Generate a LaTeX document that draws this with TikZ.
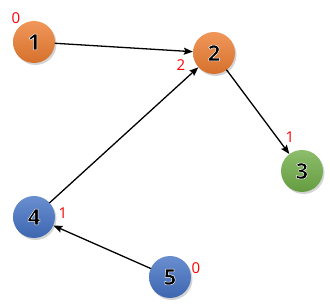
\documentclass[tikz,border=0pt]{standalone}
\usepackage{fontspec}
\setmainfont{Open Sans}
\usetikzlibrary{shadows, arrows.meta}

\definecolor{ballorange}{HTML}{ED7D31}
\definecolor{ballgreen}{HTML}{70AD47}
\definecolor{ballblue}{HTML}{4472C4}

% black digit with a white rim (fill, then stroke)
\newcommand{\rimdigit}[1]{\special{pdf:literal direct 2 Tr 0.5 w 1 1 1 RG}#1\special{pdf:literal direct 0 Tr 0 0 0 RG}}

\begin{document}
\begin{tikzpicture}[x=1pt, y=-1pt, line cap=round, line join=round,
	vertex/.style={circle, minimum size=42pt, inner sep=0pt, text=black,
		font=\fontsize{22}{22}\selectfont\bfseries,
		drop shadow={opacity=0.35, shadow xshift=1.5pt, shadow yshift=-2pt}},
	orangeball/.style={top color=ballorange!80!white, bottom color=ballorange!90!black},
	greenball/.style={top color=ballgreen!80!white, bottom color=ballgreen!90!black},
	blueball/.style={top color=ballblue!80!white, bottom color=ballblue!90!black},
	edge/.style={-{Stealth[length=9pt, width=7pt, inset=1.5pt]}, line width=1.3pt},
	indeg/.style={text=red, font=\fontsize{15}{15}\selectfont, inner sep=0pt}]
	
	\useasboundingbox (0,0) rectangle (330,307);
	
	% ---------- vertices ----------
	\node[vertex, orangeball] (n1) at (34,42) {\rimdigit{1}};
	\node[vertex, orangeball] (n2) at (214,53) {\rimdigit{2}};
	\node[vertex, greenball] (n3) at (302,171) {\rimdigit{3}};
	\node[vertex, blueball] (n4) at (34,217) {\rimdigit{4}};
	\node[vertex, blueball] (n5) at (170,277) {\rimdigit{5}};
	
	% in-degree labels
	\node[indeg] (d1) at (16,18) {0};
	\node[indeg] (d2) at (181,65) {2};
	\node[indeg] (d3) at (290,137) {1};
	\node[indeg] (d4) at (63,213) {1};
	\node[indeg] (d5) at (196,268) {0};
	
	% ---------- edges ----------
	\draw[edge] (n1) -- (n2);
	\draw[edge] (n2) -- (n3);
	\draw[edge] (n4) -- (n2);
	\draw[edge] (n5) -- (n4);
	
\end{tikzpicture}
\end{document}
